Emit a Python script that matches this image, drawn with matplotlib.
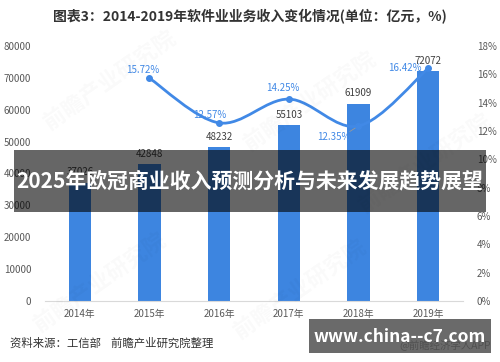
import numpy as np
import matplotlib
matplotlib.use("Agg")
import matplotlib.pyplot as plt
from matplotlib.path import Path
from matplotlib.patches import PathPatch, Rectangle

plt.rcParams['font.family'] = ['Noto Sans CJK SC', 'DejaVu Sans']

# 数据
years = ['2014年', '2015年', '2016年', '2017年', '2018年', '2019年']
revenue = [37026, 42848, 48232, 55103, 61909, 72072]
growth_years = [1, 2, 3, 4, 5]
growth = [15.72, 12.57, 14.25, 12.35, 16.42]
left_ticks = [0, 10000, 20000, 30000, 40000, 50000, 60000, 70000, 80000]
right_ticks = [0, 2, 4, 6, 8, 10, 12, 14, 16, 18]

bar_color = '#3d85e0'
line_color = '#4189e6'
tick_color = '#595959'

fig = plt.figure(figsize=(5, 3.62), dpi=100)
ax = fig.add_axes([0.09, 0.1685, 0.836, 0.7045])
x = np.arange(len(years))
ax.bar(x, revenue, width=0.32, color=bar_color, zorder=2)
for xi, v in zip(x, revenue):
    ax.annotate(str(v), (xi, v), xytext=(0, 4), textcoords='offset points',
                ha='center', va='bottom', fontsize=7, color='#404040')

ax.set_xlim(-0.5, len(years) - 0.5)
ax.set_ylim(0, 80000)
ax.set_yticks(left_ticks)
ax.set_yticklabels([str(t) for t in left_ticks])
ax.set_xticks(x)
ax.set_xticklabels(years)
ax.tick_params(axis='both', length=0, labelsize=7, colors=tick_color)
ax.tick_params(axis='y', pad=10)
ax.tick_params(axis='x', pad=6)
for s in ['top', 'right', 'left']:
    ax.spines[s].set_visible(False)
ax.spines['bottom'].set_color('#d9d9d9')

ax2 = ax.twinx()
ax2.set_ylim(0, 18)
ax2.set_yticks(right_ticks)
ax2.set_yticklabels([f'{t}%' for t in right_ticks])
ax2.tick_params(axis='y', length=0, labelsize=7, colors=tick_color, pad=10)
for s in ax2.spines.values():
    s.set_visible(False)

# 平滑曲线 (Catmull-Rom -> Bezier)
pts = np.column_stack([growth_years, growth]).astype(float)
verts = [tuple(pts[0])]
codes = [Path.MOVETO]
for i in range(len(pts) - 1):
    p0 = pts[i - 1] if i > 0 else pts[i]
    p1, p2 = pts[i], pts[i + 1]
    p3 = pts[i + 2] if i + 2 < len(pts) else pts[i + 1]
    c1 = p1 + (p2 - p0) / 6
    c2 = p2 - (p3 - p1) / 6
    verts += [tuple(c1), tuple(c2), tuple(p2)]
    codes += [Path.CURVE4] * 3
ax2.add_patch(PathPatch(Path(verts, codes), fill=False, edgecolor=line_color, lw=2, zorder=3))
ax2.plot(growth_years, growth, 'o', color=line_color, ms=4, zorder=4)

offsets = [(-5, 6), (-7, 6), (-4, 8), (-18, -8), (-17, 0)]
for xi, g, off in zip(growth_years, growth, offsets):
    ax2.annotate(f'{g:.2f}%', (xi, g), xytext=off, textcoords='offset points',
                 ha='center', va='center', fontsize=7, color=line_color)
ax2.annotate('', (growth_years[3], growth[3]), xytext=(-8, -5), textcoords='offset points',
             arrowprops=dict(arrowstyle='-', color='#999999', lw=0.6))

# 标题与来源
fig.text(0.5, 0.953, '图表3：2014-2019年软件业业务收入变化情况(单位：亿元，%)',
         ha='center', va='center', fontsize=10, fontweight='bold', color='#333333')
fig.text(0.02, 0.052, '资料来源：工信部    前瞻产业研究院整理',
         ha='left', va='center', fontsize=8.2, color='#333333')
fig.text(0.982, 0.047, '@前瞻经济学人APP', ha='right', va='center',
         fontsize=7.5, color='#555555')

# 水印
for wx, wy in [(0.22, 0.78), (0.62, 0.72), (0.2, 0.22), (0.6, 0.2), (0.85, 0.55)]:
    fig.text(wx, wy, '前瞻产业研究院', rotation=35, fontsize=16, color='#000000',
             alpha=0.025, ha='center', va='center', fontweight='bold')

# 覆盖横幅
fig.patches.append(Rectangle((0.028, 0.414), 0.944, 0.171, transform=fig.transFigure,
                             facecolor='black', alpha=0.6, zorder=10))
fig.text(0.5, 0.4995, '2025年欧冠商业收入预测分析与未来发展趋势展望', ha='center', va='center',
         fontsize=15, fontweight='bold', color='white', zorder=11)
fig.patches.append(Rectangle((0.618, 0.025), 0.364, 0.094, transform=fig.transFigure,
                             facecolor='#505050', alpha=0.85, zorder=10))
fig.text(0.8, 0.069, 'www.china--c7.com', ha='center', va='center',
         fontsize=12.5, fontweight='bold', color='white', zorder=11)

fig.savefig('out.png', dpi=100)
